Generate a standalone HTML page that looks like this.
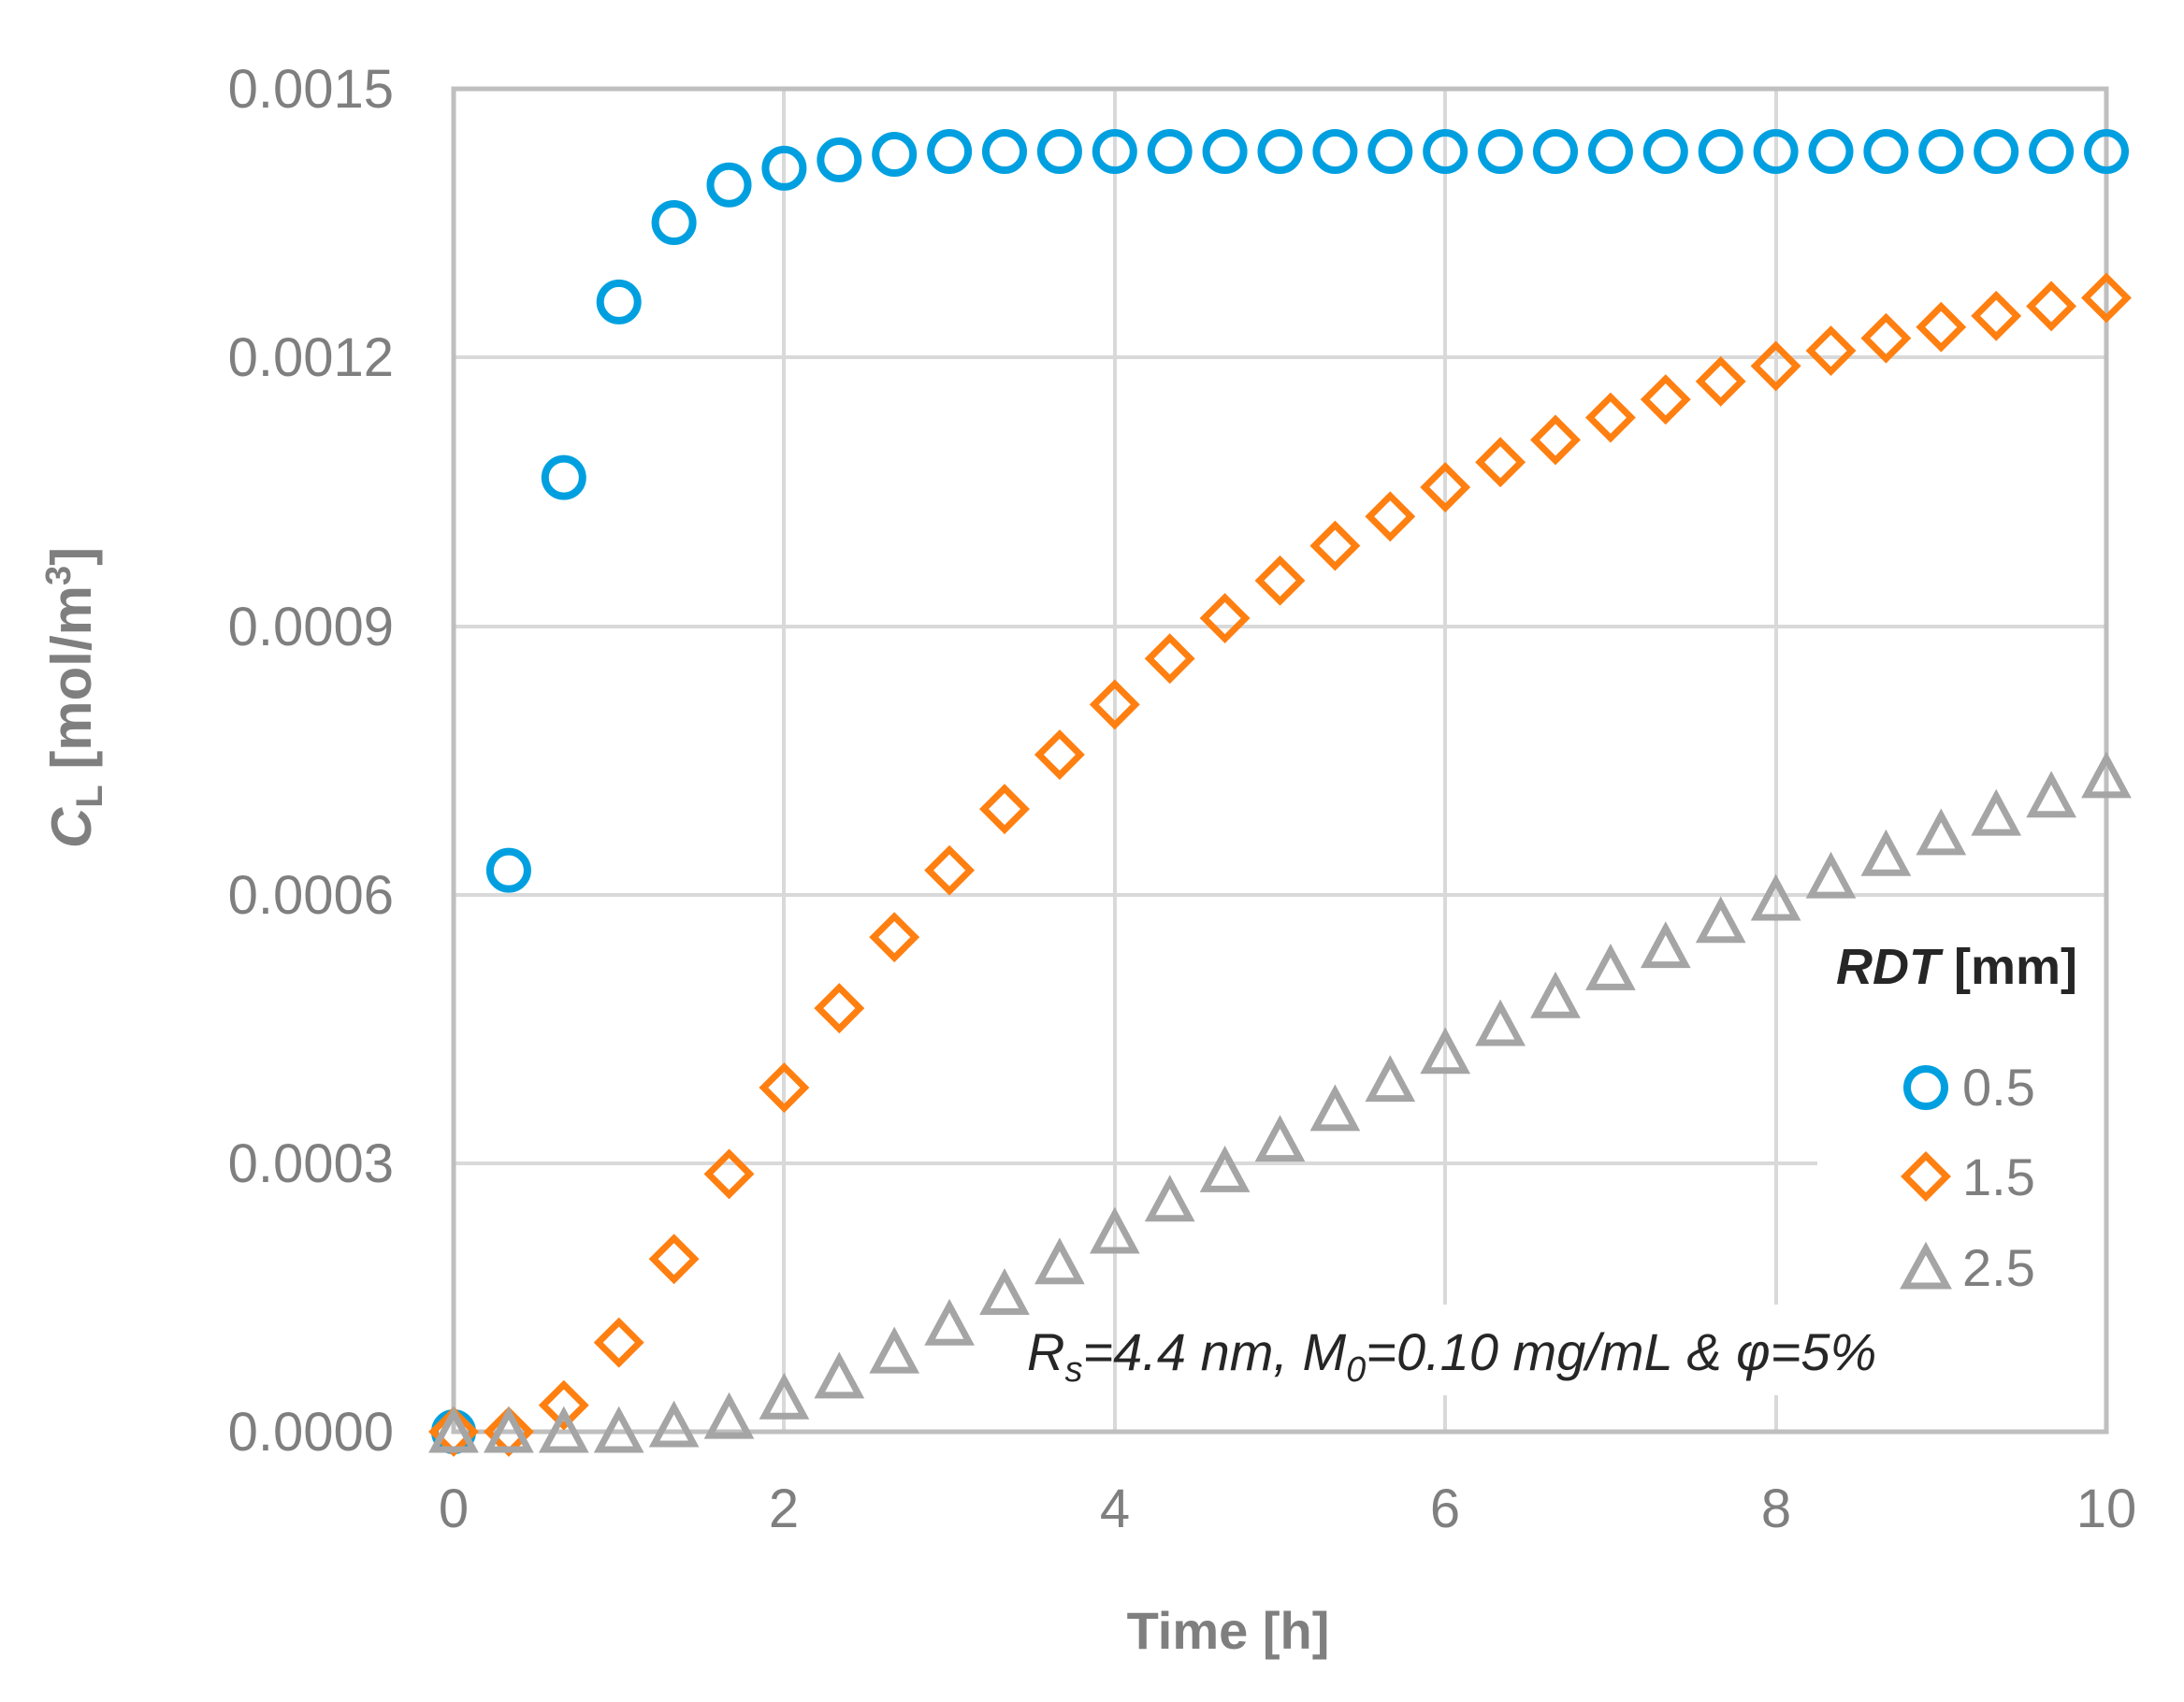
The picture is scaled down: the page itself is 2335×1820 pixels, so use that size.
<!DOCTYPE html>
<html><head><meta charset="utf-8"><style>html,body{margin:0;padding:0;background:#fff}svg{display:block}</style></head>
<body>
<svg id="s" width="2335" height="1820" xmlns="http://www.w3.org/2000/svg" font-family="Liberation Sans, sans-serif">
<rect width="2335" height="1820" fill="#fff"/>
<g stroke="#d9d9d9" stroke-width="4">
<line x1="485" y1="1244" x2="1943" y2="1244"/>
<line x1="485" y1="957" x2="2252" y2="957"/>
<line x1="485" y1="670" x2="2252" y2="670"/>
<line x1="485" y1="382" x2="2252" y2="382"/>
<line x1="838" y1="95" x2="838" y2="1531"/>
<line x1="1192" y1="95" x2="1192" y2="1531"/>
<line x1="1545" y1="95" x2="1545" y2="1395"/><line x1="1545" y1="1492" x2="1545" y2="1531"/>
<line x1="1899" y1="95" x2="1899" y2="1395"/><line x1="1899" y1="1492" x2="1899" y2="1531"/>
</g>
<rect x="485" y="95" width="1767" height="1436" fill="none" stroke="#bfbfbf" stroke-width="5"/>
<g fill="#7f7f7f" font-size="58" text-anchor="end">
<text x="421" y="115">0.0015</text>
<text x="421" y="402">0.0012</text>
<text x="421" y="690">0.0009</text>
<text x="421" y="977">0.0006</text>
<text x="421" y="1264">0.0003</text>
<text x="421" y="1551">0.0000</text>
</g>
<g fill="#7f7f7f" font-size="58" text-anchor="middle">
<text x="485" y="1633">0</text><text x="838" y="1633">2</text><text x="1192" y="1633">4</text>
<text x="1545" y="1633">6</text><text x="1899" y="1633">8</text><text x="2252" y="1633">10</text>
</g>
<text x="1313" y="1763" fill="#7f7f7f" font-size="56" font-weight="bold" text-anchor="middle">Time [h]</text>
<text transform="translate(97,746) rotate(-90)" fill="#7f7f7f" font-size="60" font-weight="bold" text-anchor="middle"><tspan font-style="italic">C</tspan><tspan font-size="40" dy="12">L</tspan><tspan dy="-12"> [mol/m</tspan><tspan font-size="38" dy="-22">3</tspan><tspan dy="22">]</tspan></text>
<text x="1098" y="1465" fill="#262626" font-size="56" font-style="italic">R<tspan font-size="38" dy="12">s</tspan><tspan dy="-12">=4.4 nm, M</tspan><tspan font-size="38" dy="12">0</tspan><tspan dy="-12">=0.10 mg/mL &amp; φ=5%</tspan></text>
<text x="1963" y="1052" fill="#262626" font-size="54" font-weight="bold"><tspan font-style="italic">RDT</tspan> [mm]</text>
<g fill="#7f7f7f" font-size="56">
<text x="2098" y="1182">0.5</text><text x="2098" y="1278">1.5</text><text x="2098" y="1375">2.5</text>
</g>
<circle cx="2059" cy="1163" r="20" fill="none" stroke="#00a0e0" stroke-width="8"/>
<path d="M2059,1236 L2081,1258 L2059,1280 L2037,1258 Z" fill="none" stroke="#ff7f10" stroke-width="7"/>
<path d="M2059,1335 L2081,1375 L2037,1375 Z" fill="none" stroke="#a5a5a5" stroke-width="7"/>
<g id="pts"></g>
</svg>
<script>
var B=[1027,624,342,216,159,132,120,114,110,108];
while(B.length<31)B.push(108);
var O=[1027,1027,1008,963,903,842,780,723,672,624,580,541,505,472,443,416,391,370,349,331,315,299,286,273,262,251,242,234,226,219,213];
var G=[1027,1027,1027,1027,1023,1017,1003,988,970,950,928,906,884,861,840,818,796,775,755,735,715,695,679,661,645,629,613,598,584,571,557];
function Y(t){return 95+(t-63)*1.4896;}
function X(i){return 485+i*176.7/3;}
var h='';
for(var i=0;i<31;i++){h+='<circle cx="'+X(i)+'" cy="'+Y(B[i])+'" r="20" fill="none" stroke="#00a0e0" stroke-width="8"/>';}
for(var i=0;i<31;i++){var x=X(i),y=Y(O[i]);h+='<path d="M'+x+','+(y-22)+' L'+(x+22)+','+y+' L'+x+','+(y+22)+' L'+(x-22)+','+y+' Z" fill="none" stroke="#ff7f10" stroke-width="7"/>';}
for(var i=0;i<31;i++){var x=X(i),y=Y(G[i]);h+='<path d="M'+x+','+(y-20)+' L'+(x+21)+','+(y+19)+' L'+(x-21)+','+(y+19)+' Z" fill="none" stroke="#a5a5a5" stroke-width="7"/>';}
document.getElementById('pts').innerHTML=h;
</script>
</body></html>
